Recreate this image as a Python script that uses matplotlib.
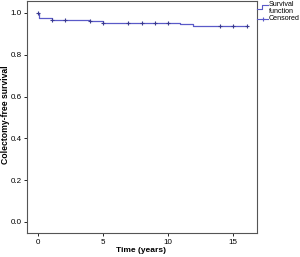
import matplotlib
matplotlib.use("Agg")
import matplotlib.pyplot as plt
from matplotlib.lines import Line2D

plt.rcParams['font.family'] = ['Liberation Sans', 'DejaVu Sans']

# step times and survival after each event
event_times = [0.0, 0.1, 1.05, 4.0, 5.0, 10.9, 11.9, 16.1]
survival = [1.0, 0.978, 0.967, 0.962, 0.954, 0.947, 0.939, 0.939]
# censored observations
censor_times = [0.0, 1.1, 2.1, 4.0, 5.0, 6.9, 8.0, 9.0, 10.0, 14.0, 15.0, 16.1]
legend_labels = ['Survival\nfunction', 'Censored']

line_col = '#5a5ac8'
W, H = 300, 257


def surv_at(t):
    s = survival[0]
    for et, sv in zip(event_times, survival):
        if et <= t:
            s = sv
    return s


def fx(px):
    return px / W


def fy(py):
    return 1 - py / H


fig = plt.figure(figsize=(3.0, 2.57), dpi=100)
ax = fig.add_axes([fx(27), fy(233), 230 / W, 232 / H])

ax.step(event_times, survival, where='post', color=line_col, lw=0.9)
ax.plot(censor_times, [surv_at(t) for t in censor_times], linestyle='none',
        marker='+', color='#3a3a90', markersize=3.2, markeredgewidth=0.8)

ax.set_xlim(-0.85, 16.85)
ax.set_ylim(-0.053, 1.057)
ax.set_xticks([0, 5, 10, 15])
ax.set_yticks([0.0, 0.2, 0.4, 0.6, 0.8, 1.0])
ax.set_yticklabels(['0.0', '0.2', '0.4', '0.6', '0.8', '1.0'])
ax.tick_params(labelsize=5.8, length=2.5, width=0.6, pad=1.5)
for sp in ax.spines.values():
    sp.set_color('#555555')
    sp.set_linewidth(0.8)

fig.text(fx(141), fy(250), 'Time (years)', fontsize=6.0, fontweight='bold',
         ha='center', va='center')
fig.text(fx(6), fy(115), 'Colectomy-free survival', fontsize=6.2,
         fontweight='bold', ha='center', va='center', rotation=90)

# legend drawn by hand outside the axes
fig.add_artist(Line2D([fx(257), fx(262), fx(262), fx(268)],
                      [fy(9), fy(9), fy(5), fy(5)], color=line_col, lw=0.8))
fig.add_artist(Line2D([fx(257), fx(268)], [fy(19), fy(19)], color=line_col, lw=0.8))
fig.add_artist(Line2D([fx(263)], [fy(19)], marker='+', color=line_col,
                      markersize=3.5, markeredgewidth=0.8))
fig.text(fx(269), fy(8), legend_labels[0], fontsize=5.1, ha='left', va='center',
         linespacing=0.95)
fig.text(fx(269), fy(19), legend_labels[1], fontsize=5.1, ha='left', va='center')

fig.savefig('out.png', dpi=100)
